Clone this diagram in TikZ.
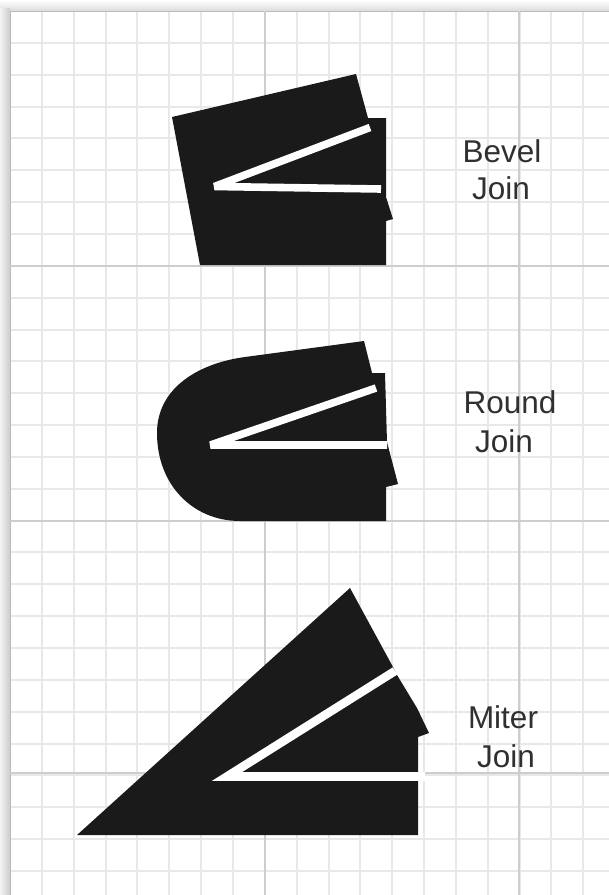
\documentclass[tikz,border=0pt]{standalone}
\usepackage{fontspec}
\setmainfont{Liberation Sans}
\usetikzlibrary{calc}
\definecolor{joinblack}{RGB}{26,26,26}
\definecolor{joinlabel}{RGB}{48,48,48}
\definecolor{gridminor}{RGB}{232,232,232}
\definecolor{gridmajor}{RGB}{205,205,205}
\tikzset{
  joinshape/.style={fill=joinblack, draw=none},
  joinpath/.style={draw=white, line width=7.6, line cap=butt},
  joinlbl/.style={font=\fontsize{31.5}{37}\selectfont, text=joinlabel, inner sep=0pt},
  minorline/.style={draw=gridminor, line width=2},
  majorline/.style={draw=gridmajor, line width=1.5}
}

\begin{document}
\begin{tikzpicture}[x=1pt, y=-1pt]
  \useasboundingbox (0,0) rectangle (609,895);

  % Page edge
  \shade[top color=white, bottom color=black!14] (0,0) rectangle (609,11);
  \shade[left color=black!5, right color=black!20] (0,8) rectangle (10,895);
  \fill[white] (10,11) rectangle (609,895);

  % Grid
  \foreach \col in {1,...,18} {
    \draw[minorline] ({10+31.85*\col},11) -- ({10+31.85*\col},895);
  }
  \foreach \row in {1,...,27} {
    \draw[minorline] (10,{11+31.85*\row}) -- (609,{11+31.85*\row});
  }
  \draw[gridminor!80!black, line width=1] (10,11) -- (609,11);
  \draw[gridminor!80!black, line width=1] (10,11) -- (10,895);
  \foreach \col in {265,519} {
    \draw[majorline] (\col,11) -- (\col,895);
  }
  \foreach \row in {266,521,773} {
    \draw[majorline] (10,\row) -- (609,\row);
  }

  % Bevel
  \fill[joinshape] (172,117) -- (356,74) -- (368,118) -- (386,118) -- (386,197)
    -- (393,219) -- (386,221) -- (386,265) -- (200,265) -- cycle;
  \draw[joinpath, line join=bevel] (370,127.5) -- (214.5,186.5) -- (381,189);
  \node[joinlbl] (bevelname) at (502,151) {Bevel};
  \node[joinlbl] (beveljoin) at (501,188) {Join};

  % Round
  \fill[joinshape] (364,341) -- (372,373) -- (385,373) -- (387,442) -- (398,484)
    -- (386,487) -- (386,521) -- (240,521)
    .. controls (193,521) and (157,485) .. (157,433)
    .. controls (157,387) and (200,363) .. (245,357) -- cycle;
  \draw[joinpath, line join=bevel] (376,388) -- (210.5,445) -- (387,445);
  \node[joinlbl] (roundname) at (510,402) {Round};
  \node[joinlbl] (roundjoin) at (504,441) {Join};

  % Miter
  \fill[joinshape] (350,588) -- (393,667) -- (397,675) -- (417,708) -- (429,733)
    -- (418,737) -- (418,835) -- (77,835) -- cycle;
  \draw[joinpath, line width=8.6, line join=miter] (395,671) -- (227,776.5) -- (425,776.5);
  \node[joinlbl] (mitername) at (503,717) {Miter};
  \node[joinlbl] (miterjoin) at (506,756) {Join};
\end{tikzpicture}
\end{document}
